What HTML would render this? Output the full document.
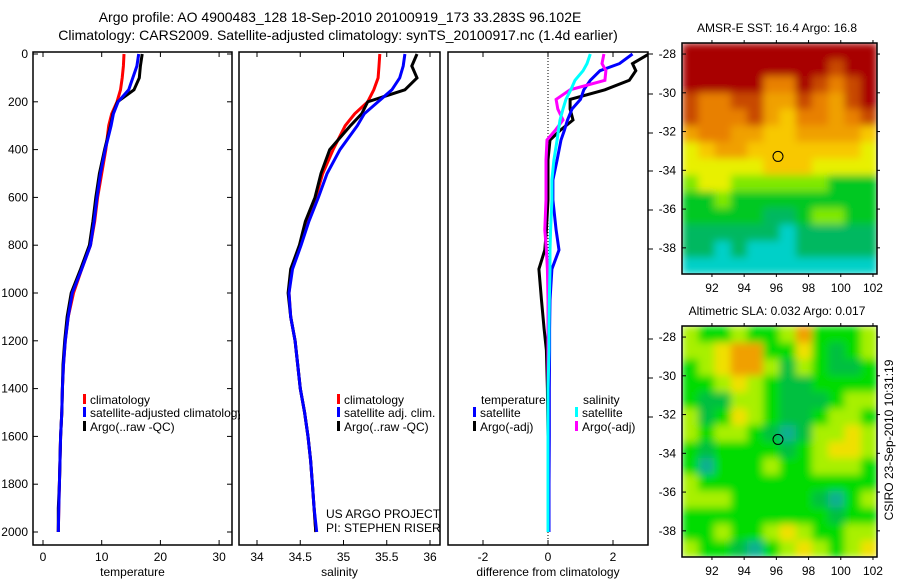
<!DOCTYPE html>
<html><head><meta charset="utf-8"><style>
html,body{margin:0;padding:0;background:#fff;}
svg{display:block;font-family:"Liberation Sans",sans-serif;}
</style></head><body>
<svg id="c" width="900" height="580" viewBox="0 0 900 580" xmlns="http://www.w3.org/2000/svg">
<defs>
<clipPath id="cp1"><rect x="33" y="52" width="207" height="493"/></clipPath>
<clipPath id="cp2"><rect x="239" y="52" width="201" height="493"/></clipPath>
<clipPath id="cp3"><rect x="448" y="52" width="200" height="493"/></clipPath>
<clipPath id="cpm1"><rect x="682" y="43" width="195" height="231"/></clipPath>
<clipPath id="cpm2"><rect x="682" y="326" width="195" height="231"/></clipPath>
<filter id="blur" x="-5%" y="-5%" width="110%" height="110%"><feGaussianBlur stdDeviation="4" edgeMode="duplicate"/></filter>
</defs>
<text x="340" y="22" font-size="14" text-anchor="middle">Argo profile: AO 4900483_128 18-Sep-2010 20100919_173 33.283S 96.102E</text>
<text x="338" y="40" font-size="14" text-anchor="middle">Climatology: CARS2009. Satellite-adjusted climatology: synTS_20100917.nc (1.4d earlier)</text>
<g id="g"></g>
</svg>
<script>
// ---- data ----
const depths = [0,50,100,150,200,250,300,400,500,600,700,800,900,1000,1100,1200,1300,1400,1500,1600,1700,1800,1900,2000];
const tempClim = [13.8,13.7,13.5,13.2,12.6,11.7,11.2,10.7,10.0,9.3,8.8,8.1,6.6,5.2,4.3,3.8,3.5,3.3,3.2,3.0,2.9,2.8,2.7,2.6];
const tempSat  = [16.3,16.0,15.3,14.6,12.8,12.0,11.6,10.6,9.8,9.2,8.7,8.1,6.6,5.0,4.3,3.8,3.5,3.3,3.2,3.0,2.9,2.8,2.7,2.6];
const tempArgo = [16.9,16.6,16.4,15.5,12.7,11.9,11.5,10.5,9.6,9.0,8.5,7.9,6.4,4.8,4.1,3.7,3.4,3.3,3.2,3.0,2.9,2.8,2.6,2.6];
const salClim = [35.42,35.41,35.40,35.35,35.28,35.13,35.02,34.88,34.76,34.68,34.57,34.50,34.40,34.37,34.39,34.44,34.47,34.50,34.55,34.59,34.62,34.64,34.66,34.68];
const salSat  = [35.71,35.69,35.65,35.56,35.40,35.24,35.16,34.96,34.81,34.71,34.60,34.51,34.41,34.37,34.39,34.44,34.47,34.50,34.55,34.59,34.62,34.64,34.66,34.69];
const salArgo = [35.85,35.79,35.85,35.71,35.28,35.21,35.08,34.84,34.74,34.67,34.56,34.49,34.39,34.36,34.39,34.44,34.47,34.50,34.55,34.59,34.62,34.64,34.66,34.68];
const diffDepths = [0,40,70,110,150,190,230,276,320,360,443,527,611,736,820,900,1030,1150,1240,1400,1600,1800,2000];
const dTempSat  = [2.6,2.2,1.6,1.3,1.1,1.0,0.74,0.6,0.5,0.4,0.28,0.15,0.15,0.25,0.34,0.12,0.06,0.05,0.05,0.04,0.04,0.03,0.03];
const dTempArgo = [3.1,2.6,2.7,2.5,1.75,0.68,0.68,0.77,0.37,0.06,0.0,0.0,0.0,-0.05,-0.1,-0.28,-0.2,-0.12,-0.05,-0.02,0.0,0.0,0.0];
const dSalSat   = [1.3,1.2,1.08,0.83,0.7,0.55,0.46,0.37,0.32,0.28,0.18,0.12,0.12,0.08,0.06,0.06,0.04,0.03,0.03,0.0,0.0,0.0,0.0];
const dSalArgo  = [1.72,1.66,1.78,1.75,0.68,0.25,0.3,0.46,0.22,-0.03,-0.06,-0.06,-0.06,-0.1,-0.05,-0.02,0.0,0.0,0.0,0.0,0.0,0.0,0.0];
const sstGrid = [
[9,9,9,9,9,9,9,9,9,9,9,9],
[9,9,9,9,9,9,9,9,9,8,9,9],
[9,9,9,9,9,7,7,9,8,7,8,9],
[8,7,7,8,8,6,6,8,7,6,8,9],
[8,7,7,7,8,6,5,7,7,6,7,8],
[6,7,7,6,6,5,5,6,6,6,6,5],
[4,5,6,6,5,5,5,5,5,5,5,4],
[4,4,4,4,4,5,5,5,4,4,4,4],
[3,4,4,3,3,3,3,3,3,2,2,2],
[2,2,3,2,2,2,2,2,2,2,2,2],
[2,2,2,2,2,1,1,2,3,3,2,2],
[1,1,1,1,1,1,0,1,1,1,1,1],
[1,1,0,1,0,0,0,1,1,1,1,1],
[0,0,0,0,0,0,0,0,0,0,0,0]];
const slaGrid = [
[3,2,2,3,2,2,3,5,2,2,2,3],
[3,3,4,5,5,2,2,4,2,1,2,3],
[2,3,4,5,5,3,1,3,2,1,1,2],
[2,2,3,4,3,2,1,1,2,2,2,2],
[2,1,1,3,3,2,1,1,1,2,3,3],
[3,1,2,4,3,2,1,1,2,3,3,2],
[3,2,3,3,2,1,0,1,3,3,4,3],
[2,1,2,2,2,2,1,2,3,4,4,3],
[2,0,2,2,2,3,2,2,3,3,3,2],
[3,2,2,2,2,2,2,2,2,2,2,2],
[3,3,3,2,2,2,2,2,1,0,2,3],
[2,2,2,2,2,2,2,2,2,1,2,2],
[2,2,3,2,2,3,4,3,2,2,3,3],
[3,2,2,1,0,2,3,4,3,2,3,4]];
const depthTicks = [0,200,400,600,800,1000,1200,1400,1600,1800,2000];
const tempTicks = [0,10,20,30];
const salTicks = [34,34.5,35,35.5,36];
const diffTicks = [-2,0,2];
const latTicks = [-28,-30,-32,-34,-36,-38];
const lonTicks = [92,94,96,98,100,102];
const argoLon = 96.102, argoLat = -33.283;

// ---- helpers ----
const NS="http://www.w3.org/2000/svg";
const G=document.getElementById('g');
function mk(tag,attrs,parent){const e=document.createElementNS(NS,tag);for(const k in attrs)e.setAttribute(k,attrs[k]);(parent||G).appendChild(e);return e;}
const yD = d => 54 + d*0.239;
const xT = v => 43 + v*5.87;
const xS = v => 257 + (v-34)*86.5;
const xDf = v => 548 + v*32.5;

function panel(x0,x1,name,ticks,xf,label){
  const r=mk('rect',{x:x0,y:52,width:x1-x0,height:493,fill:'none',stroke:'#000','stroke-width':1.5});
  
  
  ticks.forEach(t=>{
    const x=xf(t);
    mk('line',{x1:x,x2:x,y1:545,y2:540,stroke:'#000'});
    mk('line',{x1:x,x2:x,y1:52,y2:57,stroke:'#000'});
    const tx=mk('text',{x:x,y:561,'font-size':12,'text-anchor':'middle'});
    tx.textContent=t;
    
    
  });
  const lb=mk('text',{x:(x0+x1)/2,y:576,'font-size':12,'text-anchor':'middle'});
  lb.textContent=label;
  
  
}
panel(33,232,'temperature-panel',tempTicks,xT,'temperature');
panel(239,440,'salinity-panel',salTicks,xS,'salinity');
panel(448,648,'difference-panel',diffTicks,xDf,'difference from climatology');
depthTicks.forEach(d=>{
  const y=yD(d);
  mk('line',{x1:33,x2:38,y1:y,y2:y,stroke:'#000'});
  mk('line',{x1:232,x2:227,y1:y,y2:y,stroke:'#000'});
  const t=mk('text',{x:28,y:y+4,'font-size':12,'text-anchor':'end'});
  t.textContent=d;
  
  
});
[54,94,133,171,210,249,339,378,417].forEach(y=>mk('line',{x1:648,x2:653,y1:y,y2:y,stroke:'#000'}));
mk('line',{x1:xDf(0),x2:xDf(0),y1:52,y2:545,stroke:'#000','stroke-dasharray':'1,2'});

function series(xs,ds,xf,color,clip,name){
  const pts=xs.map((v,i)=>xf(v).toFixed(1)+','+yD(ds[i]).toFixed(1)).join(' ');
  const p=mk('polyline',{points:pts,fill:'none',stroke:color,'stroke-width':3,'clip-path':'url(#'+clip+')'});
  
  
}
series(tempClim,depths,xT,'#ff0000','cp1','temp-climatology-line');
series(tempArgo,depths,xT,'#000000','cp1','temp-argo-line');
series(tempSat,depths,xT,'#0000ff','cp1','temp-satellite-line');
series(salClim,depths,xS,'#ff0000','cp2','sal-climatology-line');
series(salArgo,depths,xS,'#000000','cp2','sal-argo-line');
series(salSat,depths,xS,'#0000ff','cp2','sal-satellite-line');
series(dTempArgo,diffDepths,xDf,'#000000','cp3','diff-temp-argo-line');
series(dTempSat,diffDepths,xDf,'#0000ff','cp3','diff-temp-satellite-line');
series(dSalArgo,diffDepths,xDf,'#ff00ff','cp3','diff-sal-argo-line');
series(dSalSat,diffDepths,xDf,'#00ffff','cp3','diff-sal-satellite-line');

function legend(x,y,color,text,name,clip){
  mk('rect',{x:x-2,y:y-6,width:3,height:10,fill:color});
  const t=mk('text',{x:x+5,y:y+4,'font-size':12});
  if(clip)t.setAttribute('clip-path','url(#'+clip+')');
  t.textContent=text;
  
  
}
legend(85,400,'#ff0000','climatology','legend-temp-climatology','cp1');
legend(85,413,'#0000ff','satellite-adjusted climatology','legend-temp-satellite','cp1');
legend(85,427,'#000000','Argo(..raw -QC)','legend-temp-argo','cp1');
legend(339,400,'#ff0000','climatology','legend-sal-climatology','cp2');
legend(339,413,'#0000ff','satellite adj. clim.','legend-sal-satellite','cp2');
legend(339,427,'#000000','Argo(..raw -QC)','legend-sal-argo','cp2');
let tt=mk('text',{x:481,y:404,'font-size':12});tt.textContent='temperature';


tt=mk('text',{x:583,y:404,'font-size':12});tt.textContent='salinity';


legend(475,413,'#0000ff','satellite','legend-diff-temp-satellite');
legend(475,427,'#000000','Argo(-adj)','legend-diff-temp-argo');
legend(577,413,'#00ffff','satellite','legend-diff-sal-satellite');
legend(577,427,'#ff00ff','Argo(-adj)','legend-diff-sal-argo');
tt=mk('text',{x:326,y:518,'font-size':12,'clip-path':'url(#cp2)'});tt.textContent='US ARGO PROJECT';


tt=mk('text',{x:326,y:532,'font-size':12,'clip-path':'url(#cp2)'});tt.textContent='PI: STEPHEN RISER';



// ---- maps ----
const sstColors=['#00d0c8','#00b860','#00c820','#80e800','#e8f000','#f8c800','#f0a000','#e88000','#c84800','#a80000'];
const slaColors=['#10b090','#00c040','#00dc00','#a8f000','#f0e000','#f0a000'];
function map(top,grid,colors,name,title,clipId){
  const L=682,R=877,B=top+231;
  const lonMin=90.14,lonMax=102.25,latTop=-27.43,latBot=-39.35;
  const xm=lon=>L+(lon-lonMin)/(lonMax-lonMin)*(R-L);
  const ym=lat=>top+(latTop-lat)/(latTop-latBot)*(B-top);
  const nr=grid.length,nc=grid[0].length,cw=(R-L)/nc,ch=(B-top)/nr;
  const outer=mk('g',{'clip-path':'url(#'+clipId+')'});
  const cells=mk('g',{filter:'url(#blur)'},outer);
  grid.forEach((row,i)=>row.forEach((v,j)=>{
    const c=mk('rect',{x:L+j*cw,y:top+i*ch,width:cw+0.6,height:ch+0.6,fill:colors[v]},cells);
    
    
  }));
  const f=mk('rect',{x:L,y:top,width:R-L,height:B-top,fill:'none',stroke:'#000','stroke-width':1.5});
  
  
  latTicks.forEach(la=>{
    const y=ym(la);
    mk('line',{x1:L,x2:L+4,y1:y,y2:y,stroke:'#000'});
    mk('line',{x1:R,x2:R+3,y1:y,y2:y,stroke:'#000'});
    const t=mk('text',{x:676,y:y+4,'font-size':12,'text-anchor':'end'});t.textContent=la;
    
    
  });
  lonTicks.forEach(lo=>{
    const x=xm(lo);
    mk('line',{x1:x,x2:x,y1:B,y2:B+3,stroke:'#000'});
    mk('line',{x1:x,x2:x,y1:top,y2:top-3,stroke:'#000'});
    const t=mk('text',{x:x,y:B+18,'font-size':12,'text-anchor':'middle'});t.textContent=lo;
    
    
  });
  const c=mk('circle',{cx:xm(argoLon),cy:ym(argoLat),r:5,fill:'none',stroke:'#000'});
  
  
  const t=mk('text',{x:777,y:top-11,'font-size':12,'text-anchor':'middle'});t.textContent=title;
  
  
}
map(43,sstGrid,sstColors,'sst-map','AMSR-E SST: 16.4 Argo: 16.8','cpm1');
map(326,slaGrid,slaColors,'sla-map','Altimetric SLA: 0.032 Argo: 0.017','cpm2');
tt=mk('text',{x:0,y:0,'font-size':12,'text-anchor':'middle',transform:'translate(893,440) rotate(-90)'});
tt.textContent='CSIRO 23-Sep-2010 10:31:19';


</script>
</body></html>
